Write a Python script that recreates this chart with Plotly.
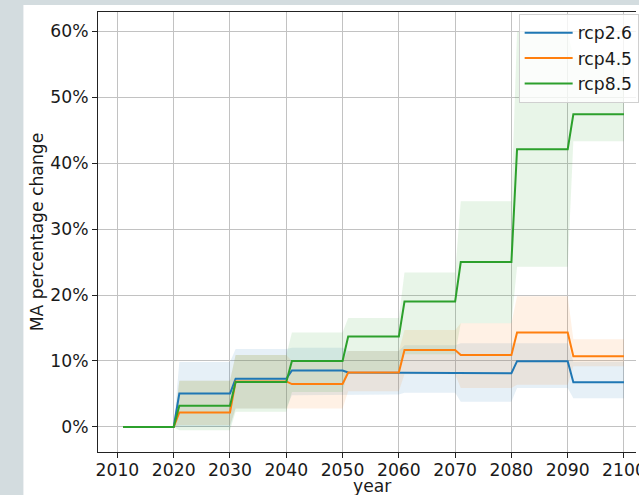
import plotly.graph_objects as go

# ---- data (per decade: 2011-2020, 2021-2030, ..., 2091-2100), values in % ----
decade_labels = ["2011-2020", "2021-2030", "2031-2040", "2041-2050", "2051-2060",
                 "2061-2070", "2071-2080", "2081-2090", "2091-2100"]
years = list(range(2011, 2101))

rcp26_mean = [0, 5.05, 7.3, 8.55, 8.25, 8.15, 8.15, 9.97, 6.78]
rcp26_low = [0, 0.0, 2.8, 4.8, 4.9, 5.2, 3.8, 5.9, 4.35]
rcp26_high = [0, 9.85, 11.8, 12.0, 11.5, 12.4, 12.7, 12.7, 9.9]

rcp45_mean = [0, 2.2, 6.9, 6.5, 8.25, 11.65, 10.9, 14.3, 10.7]
rcp45_low = [0, 0.3, 2.8, 2.8, 5.4, 8.0, 5.9, 6.4, 9.2]
rcp45_high = [0, 7.0, 10.9, 10.0, 11.5, 14.7, 15.7, 19.8, 13.3]

rcp85_mean = [0, 3.2, 6.8, 10.0, 13.7, 19.0, 25.0, 42.1, 47.4]
rcp85_low = [0, -0.5, 2.3, 5.3, 8.5, 11.0, 15.7, 24.3, 43.3]
rcp85_high = [0, 7.0, 10.9, 14.3, 16.5, 23.4, 34.2, 59.9, 56.0]

series_names = ["rcp2.6", "rcp4.5", "rcp8.5"]
colors = ["#1f77b4", "#ff7f0e", "#2ca02c"]
fills = ["rgba(31,119,180,0.11)", "rgba(255,127,14,0.11)", "rgba(44,160,44,0.11)"]

x_ticks = [2010, 2020, 2030, 2040, 2050, 2060, 2070, 2080, 2090, 2100]
y_ticks = [0, 10, 20, 30, 40, 50, 60]


def yearly(dec_vals):
    return [dec_vals[(y - 2011) // 10] for y in years]


series = [
    (rcp26_mean, rcp26_low, rcp26_high),
    (rcp45_mean, rcp45_low, rcp45_high),
    (rcp85_mean, rcp85_low, rcp85_high),
]

FONT = "DejaVu Sans"
FS = 17.2
TXT = "#1a1a1a"

fig = go.Figure()

# bands first
for (m, lo, hi), name, c, f in zip(series, series_names, colors, fills):
    fig.add_trace(go.Scatter(x=years, y=yearly(hi), mode="lines", line=dict(width=0),
                             showlegend=False, hoverinfo="skip"))
    fig.add_trace(go.Scatter(x=years, y=yearly(lo), mode="lines", line=dict(width=0),
                             fill="tonexty", fillcolor=f, showlegend=False, hoverinfo="skip"))

# lines on top
for (m, lo, hi), name, c in zip(series, series_names, colors):
    fig.add_trace(go.Scatter(x=years, y=yearly(m), mode="lines", name=name,
                             legendgroup=name, line=dict(color=c, width=2)))

L, T, B = 98, 12, 43
W, H = 639, 495
pw = W - L
ph = H - T - B


def px_x(px):
    return (px - L) / pw


def px_y(py):
    return (H - B - py) / ph


fig.update_layout(
    width=W, height=H,
    margin=dict(l=L, r=0, t=T, b=B, pad=0),
    paper_bgcolor="#d3dcdf",
    plot_bgcolor="white",
    font=dict(family=FONT, size=FS, color=TXT),
    showlegend=True,
    legend=dict(
        x=px_x(521), y=px_y(14), xanchor="left", yanchor="top",
        xref="paper", yref="paper", traceorder="normal",
        bgcolor="rgba(255,255,255,0.8)", bordercolor="#d0d0d0", borderwidth=1,
        font=dict(family=FONT, size=FS, color=TXT),
        itemwidth=48, tracegroupgap=2,
    ),
    shapes=[dict(type="rect", xref="paper", yref="paper",
                 x0=px_x(23), x1=px_x(700), y0=px_y(600), y1=px_y(5),
                 fillcolor="white", line=dict(width=0), layer="below")],
    annotations=[
        dict(text="MA percentage change", xref="paper", yref="paper",
             x=px_x(37), y=0.5, xanchor="center", yanchor="middle",
             textangle=-90, showarrow=False, font=dict(family=FONT, size=FS, color=TXT)),
        dict(text="year", xref="paper", yref="paper",
             x=px_x(374), y=px_y(486), xanchor="center", yanchor="middle",
             showarrow=False, font=dict(family=FONT, size=FS, color=TXT)),
    ],
)

fig.update_xaxes(
    range=[2006.55, 2006.55 + pw / 5.66],
    tickvals=x_ticks, ticktext=[str(v) for v in x_ticks],
    showgrid=True, gridcolor="#c2c2c2", gridwidth=1,
    showline=True, linecolor="#222222", linewidth=1, mirror=True,
    ticks="outside", ticklen=5, tickcolor="#222222", tickwidth=1,
    ticklabeloverflow="allow", ticklabelstandoff=-3,
    zeroline=False, automargin=False,
)
fig.update_yaxes(
    range=[-3.8, 62.9],
    tickvals=y_ticks, ticktext=[f"{v}%" for v in y_ticks],
    showgrid=True, gridcolor="#c2c2c2", gridwidth=1,
    showline=True, linecolor="#222222", linewidth=1, mirror=False,
    ticks="outside", ticklen=5, tickcolor="#222222", tickwidth=1,
    zeroline=False, automargin=False,
)

fig.write_html(
    "out.html",
    config={"displayModeBar": False},
    post_script="document.body.style.margin='0';document.body.style.overflow='hidden';",
)
